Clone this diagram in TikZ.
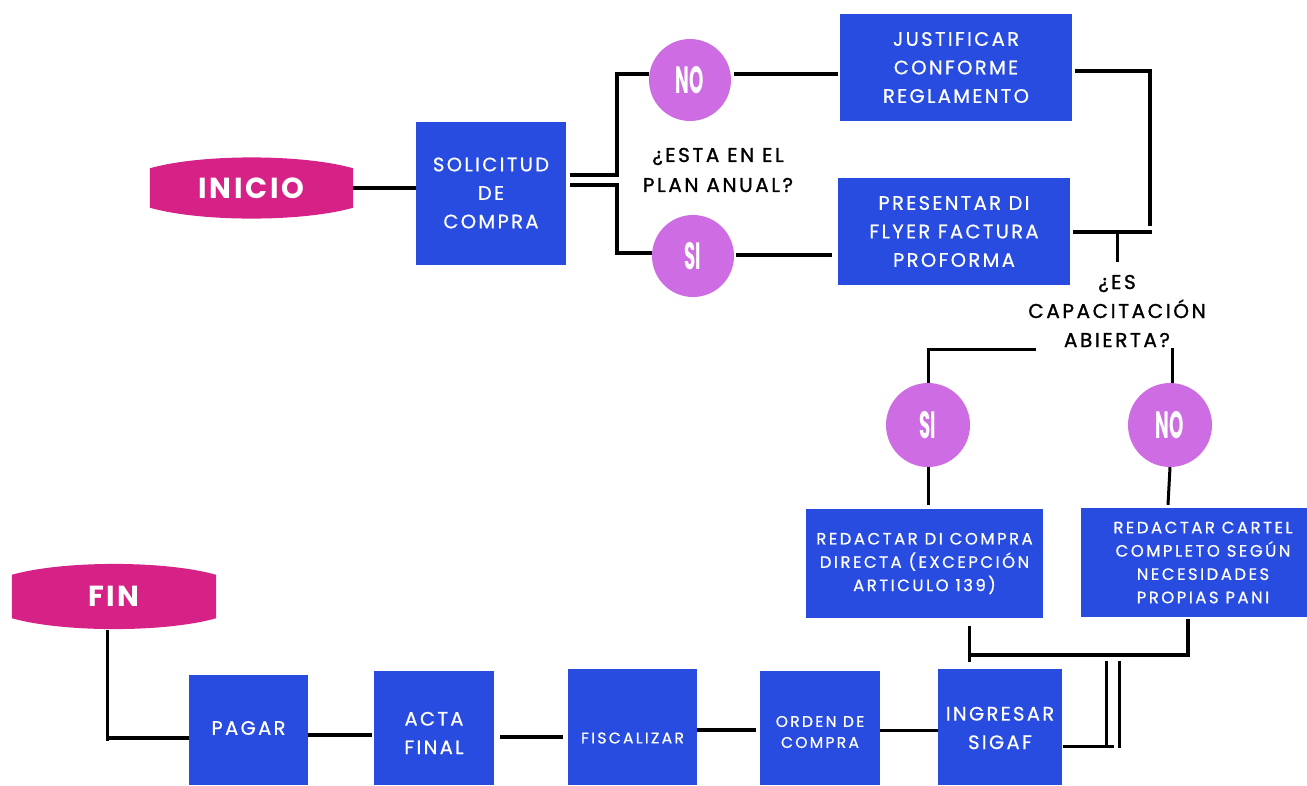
\documentclass[tikz,border=0pt]{standalone}
\usepackage{fontspec}
\usepackage{graphicx}
\setmainfont{Poppins}
\newfontfamily\boxfont{Poppins}[LetterSpace=12, FakeBold=0.7]
\newfontfamily\smallboxfont{Poppins}[LetterSpace=15, FakeBold=0.7]
\newfontfamily\qfont{Poppins}[LetterSpace=13, FakeBold=1.2]
\newfontfamily\termfont{Poppins}[LetterSpace=9]
\usetikzlibrary{calc,backgrounds}
\definecolor{boxblue}{HTML}{284CE0}
\definecolor{startpink}{HTML}{D62186}
\definecolor{circpurple}{HTML}{CE6CE3}
\newcommand{\circtext}[1]{\scalebox{0.48}[1]{\fontsize{38}{38}\selectfont\bfseries #1}}
\tikzset{
  bluebox/.style={fill=boxblue, text=white, align=center, inner sep=0pt,
    font=\boxfont\fontsize{19.5}{28.5}\selectfont},
  smallbox/.style={bluebox, font=\smallboxfont\fontsize{16.5}{23.3}\selectfont},
  tinybox/.style={bluebox, font=\smallboxfont\fontsize{15.5}{21}\selectfont},
  boxlabel/.style={text=white, align=center, inner sep=0pt, font=\boxfont\fontsize{19.5}{28.5}\selectfont},
  tinylabel/.style={boxlabel, font=\smallboxfont\fontsize{15.5}{21}\selectfont},
  decision/.style={circle, fill=circpurple, text=white, inner sep=0pt, minimum size=#1},
  question/.style={align=center, text=black, inner sep=0pt, font=\qfont\fontsize{20}{#1}\selectfont},
  terminal/.style={text=white, inner sep=0pt, font=\termfont\fontsize{29}{29}\selectfont\bfseries},
  conn/.style={draw=black, line width=3.6pt},
  thinconn/.style={draw=black, line width=3pt},
}
\newcommand{\terminalshape}[2]{% node name, bulge
  \path[fill=startpink] (#1.north west)
    .. controls ($(#1.north west)!0.25!(#1.north east)+(0,-#2)$) and ($(#1.north west)!0.75!(#1.north east)+(0,-#2)$) .. (#1.north east)
    -- (#1.south east)
    .. controls ($(#1.south west)!0.75!(#1.south east)+(0,#2)$) and ($(#1.south west)!0.25!(#1.south east)+(0,#2)$) .. (#1.south west)
    -- cycle;}
\begin{document}
\begin{tikzpicture}[x=1pt,y=-1pt]
\useasboundingbox (0,0) rectangle (1307,785);
\clip (0,0) rectangle (1307,785);

% terminals
\node[terminal, minimum width=203pt, minimum height=39pt] (ini) at (251.5,188) {INICIO};
\node[terminal, minimum width=204pt, minimum height=43pt] (fin) at (114,596.5) {FIN};
\begin{pgfonlayer}{background}
\fill[white] (0,0) rectangle (1307,785);
\terminalshape{ini}{14.5}
\terminalshape{fin}{14.5}
\end{pgfonlayer}

% boxes
\node[bluebox, minimum width=150pt, minimum height=143pt] (sol) at (491,193) {SOLICITUD\\DE\\COMPRA};
\node[bluebox, minimum width=232pt, minimum height=107pt] (just) at (956,67.5) {JUSTIFICAR\\CONFORME\\REGLAMENTO};
\node[bluebox, minimum width=232pt, minimum height=107pt] (pres) at (954,231.5) {PRESENTAR DI\\FLYER FACTURA\\PROFORMA};
\node[smallbox, minimum width=237pt, minimum height=109pt] (rdi) at (924.5,563.5) {REDACTAR DI COMPRA\\DIRECTA (EXCEPCIÓN\\ARTICULO 139)};
\node[smallbox, minimum width=244pt, minimum height=109pt] (rcart) at (1203,562.5) {REDACTAR CARTEL\\COMPLETO SEGÚN\\NECESIDADES\\PROPIAS PANI};
\node[bluebox, minimum width=124pt, minimum height=116pt,
  label={[boxlabel, yshift=-1pt]center:INGRESAR\\SIGAF}] (ingr) at (1000,727) {};
\node[bluebox, minimum width=120pt, minimum height=114pt,
  label={[tinylabel, yshift=-4pt]center:ORDEN DE\\COMPRA}] (orden) at (820,728) {};
\node[bluebox, minimum width=129pt, minimum height=116pt,
  label={[tinylabel, yshift=-11pt]center:FISCALIZAR}] (fisc) at (632.5,727) {};
\node[bluebox, minimum width=120pt, minimum height=114pt,
  label={[boxlabel, yshift=-5pt]center:ACTA\\FINAL}] (acta) at (434,728) {};
\node[bluebox, minimum width=119pt, minimum height=110pt,
  label={[boxlabel, yshift=2pt]center:PAGAR}] (pagar) at (248.5,730) {};

% decisions
\node[decision=82pt] (no1) at (690,80) {\circtext{NO}};
\node[decision=82pt] (si1) at (693,256) {\circtext{SI}};
\node[decision=84pt] (si2) at (928,425) {\circtext{SI}};
\node[decision=84pt] (no2) at (1170,425) {\circtext{NO}};

% questions
\node[question=30pt] (q1) at (718,170) {¿ESTA EN EL\\PLAN ANUAL?};
\node[question=29pt] (q2) at (1117,311) {¿ES\\CAPACITACIÓN\\ABIERTA?};

% connectors
\draw[conn] (ini.east) -- (sol.west |- ini.east);
\draw[conn] ($(sol.east |- 0,175)+(4,0)$) -| (617,74) -- (no1.west |- 0,74);
\draw[conn] ($(sol.east |- 0,185)+(4,0)$) -| (617,253) -- (si1.west |- 0,253);
\draw[conn] ($(no1.east |- 0,74)+(3,0)$) -- ($(just.west |- 0,74)+(-2,0)$);
\draw[conn] ($(si1.east |- 0,255)+(2,0)$) -- ($(pres.west |- 0,255)+(-6,0)$);
\draw[conn] ($(just.east |- 0,71)+(3,0)$) -| (1150,226);
\draw[conn] ($(pres.east |- 0,232)+(3,0)$) -- (1152,232);
\draw[thinconn] (1117,232) -- ($(q2.north |- 0,262)$);
\draw[thinconn] (1036,349) -| (si2.north);
\draw[thinconn] (1172,348) -- (no2.north -| 1172,0);
\draw[thinconn] (si2.south) -- ($(rdi.north)+(3.5,-4)$);
\draw[thinconn] (no2.south) -- ($(rcart.north -| 1168,0)+(0,-3)$);
\draw[thinconn] ($(rdi.south -| 969,0)+(0,8)$) -- (969,662);
\draw[conn] (969,655) -| ($(rcart.south -| 1188,0)+(0,2)$);
\draw[thinconn] (1106,661) -- (1106,747);
\draw[thinconn] (1119,661) -- (1119,748);
\draw[thinconn] ($(ingr.east |- 0,746)+(1,0)$) -- (1114,746);
\draw[thinconn] (orden.east |- 0,730) -- (ingr.west |- 0,730);
\draw[conn] (fisc.east |- 0,730) -- ($(orden.west |- 0,730)+(-4,0)$);
\draw[conn] ($(acta.east |- 0,737)+(6,0)$) -- ($(fisc.west |- 0,737)+(-5,0)$);
\draw[conn] (pagar.east |- 0,735) -- ($(acta.west |- 0,735)+(-2,0)$);
\draw[thinconn] ($(fin.south -| 107,0)+(0,12)$) -- (107,741);
\draw[conn] (107,738) -- (pagar.west |- 0,738);
\end{tikzpicture}
\end{document}
